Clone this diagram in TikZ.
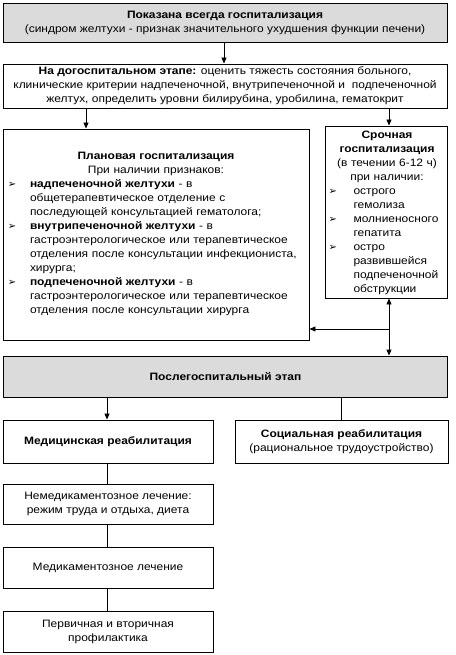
\documentclass[tikz,border=0pt]{standalone}
\usepackage{fontspec}
\setmainfont{Liberation Sans}[FakeStretch=1.12]
\newfontfamily\symfont{DejaVu Sans}
\usetikzlibrary{arrows.meta}
\newcommand{\bul}{{\symfont\fontsize{10}{10}\selectfont ➢}}
\newcommand{\bitem}[2]{\par\noindent\hangindent=#1\hangafter=1\makebox[#1][l]{\bul}#2\par}
\tikzset{
  x=1pt, y=-1pt,
  txt/.style={font=\fontsize{10.7}{14}\selectfont},
  box/.style={draw, line width=0.9pt, inner sep=0pt, align=center, txt},
  graybox/.style={box, fill=black!14},
  conn/.style={line width=0.9pt},
  arr/.style={conn, -{Triangle[length=6pt,width=5pt]}},
  darr/.style={conn, {Triangle[length=6pt,width=5pt]}-{Triangle[length=6pt,width=5pt]}},
}
\begin{document}
\begin{tikzpicture}
\useasboundingbox (0,0) rectangle (455,655);
% top
\node[graybox, minimum width=444, minimum height=39] (top) at (225,22.5)
  {\textbf{Показана всегда госпитализация}\\(синдром желтухи - признак значительного ухудшения функции печени)};
% pre-hospital
\node[box, minimum width=444, minimum height=44] (pre) at (225,86)
  {\textbf{На догоспитальном этапе:} оценить тяжесть состояния больного,\\клинические критерии надпеченочной, внутрипеченочной и\ \ подпеченочной\\желтух, определить уровни билирубина, уробилина, гематокрит};
% planned
\node[box, minimum width=306, minimum height=211] (plan) at (156,234.5) {};
\node[txt, text width=296, align=left, inner sep=0pt] (plantext) at (156,234)
  {{\centering\textbf{Плановая госпитализация}\\При наличии признаков:\par}%
   \bitem{22pt}{\textbf{надпеченочной желтухи} - в общетерапевтическое отделение с последующей консультацией гематолога;}%
   \bitem{22pt}{\textbf{внутрипеченочной желтухи} - в гастроэнтерологическое или терапевтическое отделения после консультации инфекциониста, хирурга;}%
   \bitem{22pt}{\textbf{подпеченочной желтухи} - в гастроэнтерологическое или терапевтическое отделения после консультации хирурга}};
% urgent
\node[box, minimum width=122, minimum height=172] (urg) at (386,212) {};
\node[txt, text width=117, align=left, inner sep=0pt] (urgtext) at (387,213)
  {{\centering\textbf{Срочная}\\\textbf{госпитализация}\\(в течении 6-12 ч)\\при наличии:\par}%
   \bitem{25pt}{острого гемолиза}%
   \bitem{25pt}{молниеносного гепатита}%
   \bitem{25pt}{остро развившейся подпеченочной обструкции}};
% post-hospital
\node[graybox, minimum width=444, minimum height=41] (post) at (225.5,376.5) {\textbf{Послегоспитальный этап}};
% rehabilitation
\node[box, minimum width=210, minimum height=43] (med) at (108,441.5) {\textbf{Медицинская реабилитация}};
\node[box, minimum width=213, minimum height=43] (soc) at (341.5,441.5) {\textbf{Социальная реабилитация}\\(рациональное трудоустройство)};
\node[box, minimum width=210, minimum height=40] (nonmed) at (108,504) {Немедикаментозное лечение:\\режим труда и отдыха, диета};
\node[box, minimum width=210, minimum height=41] (medik) at (108,567.5) {Медикаментозное лечение};
\node[box, minimum width=210, minimum height=41] (prof) at (108,631.5) {Первичная и вторичная\\профилактика};
% connectors
\draw[arr] (top.south -| 224,0) -- (pre.north -| 224,0);
\draw[arr] (pre.south -| 86,0) -- (plan.north -| 86,0);
\draw[arr] (pre.south -| 389,0) -- (urg.north -| 389,0);
\draw[darr] (urg.south -| 389,0) -- (post.north -| 389,0);
\coordinate (junc) at (389,329);
\draw[arr] (junc) -- (junc -| plan.east);
\draw[arr] (post.south -| 107,0) -- (med.north -| 107,0);
\draw[conn] (post.south -| 341,0) -- (soc.north -| 341,0);
\draw[conn] (med.south -| 107,0) -- (nonmed.north -| 107,0);
\draw[conn] (nonmed.south -| 107,0) -- (medik.north -| 107,0);
\draw[conn] (medik.south -| 107,0) -- (prof.north -| 107,0);
\end{tikzpicture}
\end{document}
